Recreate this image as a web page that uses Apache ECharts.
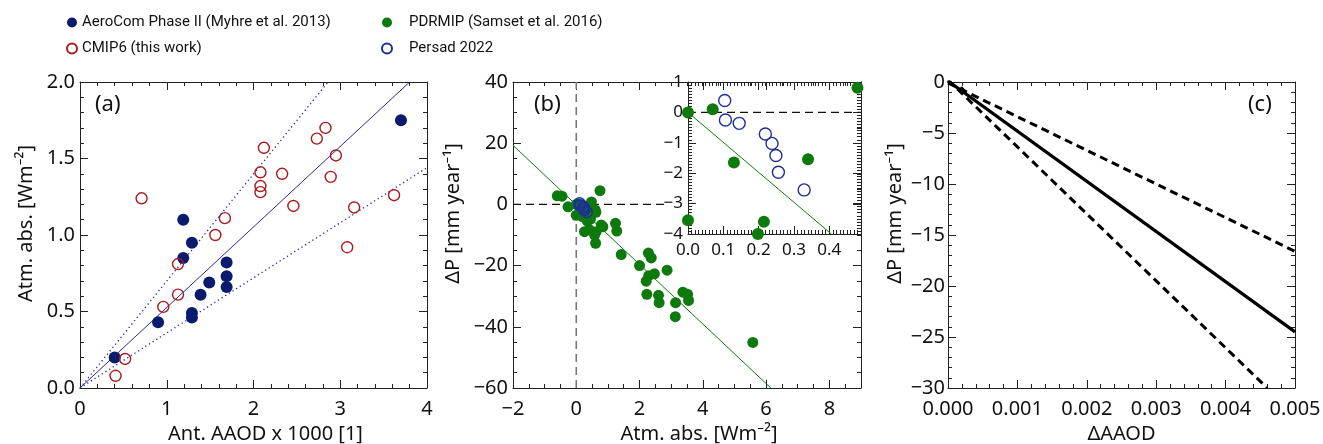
<!DOCTYPE html>
<html><head><meta charset="utf-8">
<script src="https://cdn.jsdelivr.net/npm/echarts@6/dist/echarts.min.js"></script>
<style>html,body{margin:0;padding:0;background:#fff}#c{width:1323px;height:444px}</style>
</head><body><div id="c"></div>
<script>
// ---------- Panel (a): Atm. abs. vs Ant. AAOD ----------
const aerocomX = [0.40,0.90,1.19,1.19,1.29,1.29,1.29,1.39,1.49,1.69,1.69,1.69,3.70];
const aerocomY = [0.20,0.43,1.10,0.85,0.95,0.49,0.46,0.61,0.69,0.82,0.73,0.66,1.75];
const cmip6X = [0.41,0.52,0.71,0.96,1.13,1.13,1.56,1.67,2.08,2.08,2.08,2.12,2.33,2.46,2.73,2.83,2.89,2.95,3.08,3.16,3.62];
const cmip6Y = [0.08,0.19,1.24,0.53,0.61,0.81,1.00,1.11,1.41,1.32,1.28,1.57,1.40,1.19,1.63,1.70,1.38,1.52,0.92,1.18,1.26];
const fitA = [[0,0],[3.8,2.0]];
const fitAUpper = [[0,0],[2.86,2.0]];
const fitALower = [[0,0],[4.0,1.44]];

// ---------- Panel (b): dP vs Atm. abs. ----------
const pdrmipX = [-0.60,-0.45,0.75,-0.26,0.00,0.00,0.07,0.13,0.34,0.215,0.198,0.48,0.60,0.62,0.45,0.35,0.26,0.42,0.63,0.79,0.84,0.58,0.61,1.24,1.28,1.42,2.00,2.28,2.37,2.87,2.21,2.29,2.47,2.23,2.60,2.62,3.14,3.13,3.37,3.52,3.55,5.58];
const pdrmipY = [2.8,2.7,4.5,-0.8,-3.55,0.0,0.1,-1.65,-1.54,-3.6,-4.0,0.81,-1.8,-2.6,-4.8,-5.5,-8.9,-8.3,-8.9,-6.7,-7.3,-10.0,-12.7,-6.2,-8.7,-16.4,-20.0,-15.9,-17.5,-21.5,-25.1,-23.3,-22.7,-29.4,-29.7,-32.1,-32.1,-36.7,-28.7,-29.4,-31.4,-45.1];
const persadX = [0.104,0.106,0.145,0.219,0.238,0.249,0.256,0.329];
const persadY = [0.39,-0.25,-0.36,-0.71,-1.02,-1.42,-1.97,-2.55];
const fitB = [[-2,19.3],[6.15,-60]];
const fitBInset = [[0,0],[0.406,-4]];
const zeroHB = [[-2,0],[2.88,0]];
const zeroVB = [[0,-60],[0,40]];
const zeroHInset = [[0,0],[0.49,0]];

// ---------- Panel (c): dP vs dAAOD ----------
const fitC = [[0,0.1],[0.005,-24.5]];
const fitCUpper = [[0,-0.1],[0.005,-16.6]];
const fitCLower = [[0,0.2],[0.0046,-30]];
const pointC = [[0.0002,-0.8]];

const FONT = 'Noto Sans';
const LEGFONT = 'Roboto, Liberation Sans, sans-serif';
const NAVY = '#0b1a6e', RED = '#a81c1c', GREEN = '#0e7a0e', RING = '#1f2f96', LINEBLUE = '#2a2aa0';
const minus = s => s.replace('-', '\u2212');
const pairs = (xs, ys) => xs.map((x, i) => [x, ys[i]]);

function ax(grid, pos, min, max, interval, minorSplit, showLabel, dec, fs, margin, extra) {
  const o = {
    type: 'value', gridIndex: grid, position: pos, min: min, max: max, interval: interval,
    axisLine: {show: true, onZero: false, lineStyle: {color: '#222', width: 1}},
    axisTick: {show: true, inside: true, length: 8, lineStyle: {color: '#222', width: 1}},
    minorTick: {show: true, splitNumber: minorSplit, length: 4, lineStyle: {color: '#222', width: 1}},
    splitLine: {show: false},
    axisLabel: {show: showLabel, fontFamily: FONT, fontSize: fs, color: '#111', margin: margin,
      showMaxLabel: extra && extra.hideMax ? false : true,
      formatter: v => minus(Number(v).toFixed(dec))}
  };
  if (extra && extra.name) {
    o.name = extra.name; o.nameLocation = 'middle'; o.nameGap = extra.nameGap;
    o.nameTextStyle = {fontFamily: FONT, fontSize: 20, color: '#111', padding: extra.pad || 0};
    if (extra.rot) o.nameRotate = 90;
  }
  return o;
}
const G = (l, t, w, h) => ({left: l, top: t, width: w, height: h, containLabel: false, outerBoundsMode: 'none'});

const option = {
  animation: false,
  backgroundColor: '#fff',
  legend: [
    {left: 61, top: 10, orient: 'vertical', itemWidth: 10, itemHeight: 10, itemGap: 11, icon: 'circle',
     data: ['AeroCom Phase II (Myhre et al. 2013)', 'CMIP6 (this work)'],
     textStyle: {fontFamily: LEGFONT, fontSize: 15, color: '#111'}},
    {left: 376, top: 10, orient: 'vertical', itemWidth: 10, itemHeight: 10, itemGap: 11, icon: 'circle',
     data: ['PDRMIP (Samset et al. 2016)', 'Persad 2022'],
     textStyle: {fontFamily: LEGFONT, fontSize: 15, color: '#111', padding: [0, 0, 0, 12]}}
  ],
  grid: [G(80, 82, 347, 306), G(513, 82, 348, 306), G(688, 82, 173, 152), G(948, 82, 347, 306)],
  xAxis: [
    ax(0, 'bottom', 0, 4, 1, 5, true, 0, 20, 11, {name: 'Ant. AAOD x 1000 [1]', nameGap: 34, pad: [0,0,0,24]}),
    ax(0, 'top', 0, 4, 1, 5, false, 0, 20, 11),
    ax(1, 'bottom', -2, 9, 2, 4, true, 0, 20, 11, {hideMax: true, name: 'Atm. abs. [Wm\u207B\u00B2]', nameGap: 34, pad: [0,0,0,24]}),
    ax(1, 'top', -2, 9, 2, 4, false, 0, 20, 11),
    ax(2, 'bottom', 0, 0.49, 0.1, 10, true, 1, 17, 8, {hideMax: true}),
    ax(2, 'top', 0, 0.49, 0.1, 10, false, 1, 17, 8),
    ax(3, 'bottom', 0, 0.005, 0.001, 5, true, 3, 20, 11, {name: '\u0394AAOD', nameGap: 34}),
    ax(3, 'top', 0, 0.005, 0.001, 5, false, 3, 20, 11)
  ],
  yAxis: [
    ax(0, 'left', 0, 2, 0.5, 5, true, 1, 20, 5, {name: 'Atm. abs. [Wm\u207B\u00B2]', nameGap: 44, rot: true, pad: [0,0,0,23]}),
    ax(0, 'right', 0, 2, 0.5, 5, false, 1, 20, 5),
    ax(1, 'left', -60, 40, 20, 4, true, 0, 20, 5, {name: '\u0394P [mm year\u207B\u00B9]', nameGap: 50, rot: true, pad: [0,0,0,43]}),
    ax(1, 'right', -60, 40, 20, 4, false, 0, 20, 5),
    ax(2, 'left', -4, 1, 1, 10, true, 0, 17, 5),
    ax(2, 'right', -4, 1, 1, 10, false, 0, 17, 5),
    ax(3, 'left', -30, 0, 5, 5, true, 0, 20, 3, {name: '\u0394P [mm year\u207B\u00B9]', nameGap: 43, rot: true, pad: [0,0,0,43]}),
    ax(3, 'right', -30, 0, 5, 5, false, 0, 20, 3)
  ],
  graphic: [
    {type: 'text', left: 95, top: 94, style: {text: '(a)', font: '22px "Noto Sans"', fill: '#111'}},
    {type: 'text', left: 534, top: 94, style: {text: '(b)', font: '22px "Noto Sans"', fill: '#111'}},
    {type: 'text', left: 1248, top: 94, style: {text: '(c)', font: '22px "Noto Sans"', fill: '#111'}}
  ],
  series: [
    // (a)
    {type: 'line', xAxisIndex: 0, yAxisIndex: 0, data: fitA, symbol: 'none', lineStyle: {color: LINEBLUE, width: 1}, z: 1},
    {type: 'line', xAxisIndex: 0, yAxisIndex: 0, data: fitAUpper, symbol: 'none', lineStyle: {color: LINEBLUE, width: 1.3, type: [1.3, 3]}, z: 1},
    {type: 'line', xAxisIndex: 0, yAxisIndex: 0, data: fitALower, symbol: 'none', lineStyle: {color: LINEBLUE, width: 1.3, type: [1.3, 3]}, z: 1},
    {name: 'AeroCom Phase II (Myhre et al. 2013)', type: 'scatter', xAxisIndex: 0, yAxisIndex: 0,
     data: pairs(aerocomX, aerocomY), symbolSize: 12, itemStyle: {color: NAVY, opacity: 1}},
    {name: 'CMIP6 (this work)', type: 'scatter', xAxisIndex: 0, yAxisIndex: 0,
     data: pairs(cmip6X, cmip6Y), symbolSize: 11, itemStyle: {color: 'rgba(255,255,255,0)', borderColor: RED, borderWidth: 1.4, opacity: 1}},
    // (b) main
    {type: 'line', xAxisIndex: 2, yAxisIndex: 2, data: zeroHB, symbol: 'none', lineStyle: {color: '#111', width: 1.2, type: [8, 5]}, z: 1},
    {type: 'line', xAxisIndex: 2, yAxisIndex: 2, data: zeroVB, symbol: 'none', lineStyle: {color: '#777', width: 1.6, type: [8, 5]}, z: 1},
    {type: 'line', xAxisIndex: 2, yAxisIndex: 2, data: fitB, symbol: 'none', lineStyle: {color: GREEN, width: 1}, z: 1},
    {name: 'PDRMIP (Samset et al. 2016)', type: 'scatter', xAxisIndex: 2, yAxisIndex: 2,
     data: pairs(pdrmipX, pdrmipY), symbolSize: 11, itemStyle: {color: GREEN, opacity: 1}},
    {name: 'Persad 2022', type: 'scatter', xAxisIndex: 2, yAxisIndex: 2,
     data: pairs(persadX, persadY), symbolSize: 11, itemStyle: {color: 'rgba(255,255,255,0)', borderColor: RING, borderWidth: 1.4, opacity: 1}},
    // (b) inset
    {type: 'line', xAxisIndex: 4, yAxisIndex: 4, data: zeroHInset, symbol: 'none', lineStyle: {color: '#111', width: 1.2, type: [8, 5]}, z: 1},
    {type: 'line', xAxisIndex: 4, yAxisIndex: 4, data: fitBInset, symbol: 'none', lineStyle: {color: GREEN, width: 1}, z: 1},
    {name: 'PDRMIP (Samset et al. 2016)', type: 'scatter', xAxisIndex: 4, yAxisIndex: 4, clip: true,
     data: pairs(pdrmipX, pdrmipY), symbolSize: 12, itemStyle: {color: GREEN, opacity: 1}},
    {name: 'Persad 2022', type: 'scatter', xAxisIndex: 4, yAxisIndex: 4, clip: true,
     data: pairs(persadX, persadY), symbolSize: 12, itemStyle: {color: 'rgba(255,255,255,0)', borderColor: RING, borderWidth: 1.4, opacity: 1}},
    // (c)
    {type: 'line', xAxisIndex: 6, yAxisIndex: 6, data: fitC, symbol: 'none', lineStyle: {color: '#000', width: 3.2}},
    {type: 'line', xAxisIndex: 6, yAxisIndex: 6, data: fitCUpper, symbol: 'none', lineStyle: {color: '#000', width: 3, type: [8, 5]}},
    {type: 'line', xAxisIndex: 6, yAxisIndex: 6, data: fitCLower, symbol: 'none', lineStyle: {color: '#000', width: 3, type: [8, 5]}},
    {type: 'scatter', xAxisIndex: 6, yAxisIndex: 6, data: pointC, symbol: 'diamond', symbolSize: 8, itemStyle: {color: '#000', opacity: 1}}
  ]
};
const chart = echarts.init(document.getElementById('c'), null, {renderer: 'canvas'});
chart.setOption(option);
</script>
</body></html>
